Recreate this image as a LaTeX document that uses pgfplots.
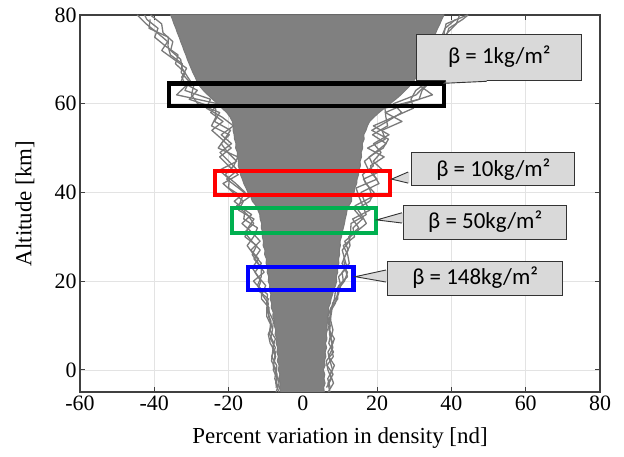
\documentclass[border=0pt]{standalone}
\usepackage{fontspec}
\setmainfont{Liberation Serif}
\newfontfamily\calibri{Carlito}
\usepackage{pgfplots}
\usepackage{pgfplotstable}
\pgfplotsset{compat=1.18}
\definecolor{dgray}{HTML}{808080}
\definecolor{lgray}{HTML}{7A7A7A}
\definecolor{boxgray}{HTML}{D9D9D9}
\definecolor{mgreen}{HTML}{00B050}

% dense core of the dispersion bundle: left edge bottom->top, right edge top->bottom
\pgfplotstableread{
x y
-6.0 -5
-6.3 -4
-6.1 -3
-6.5 -2
-6.2 -1
-6.6 0
-6.4 1
-6.9 2
-6.6 3
-7.0 4
-6.8 5
-7.2 6
-7.0 7
-7.5 8
-7.3 9
-7.7 10
-7.6 11
-8.1 12
-8.0 13
-8.5 14
-8.4 15
-8.8 16
-8.6 17
-9.1 18
-8.9 19
-9.3 20
-9.2 21
-9.6 22
-9.5 23
-9.9 24
-9.8 25
-10.3 26
-10.2 27
-10.7 28
-10.6 29
-10.9 30
-10.8 31
-11.2 32
-11.1 33
-11.5 34
-11.6 35
-12.1 36
-12.6 37
-13.6 38
-14.0 39
-14.8 40
-15.3 41
-15.9 42
-16.3 43
-16.8 44
-17.0 45
-17.4 46
-17.3 47
-17.7 48
-17.6 49
-18.1 50
-18.0 51
-18.4 52
-18.5 53
-18.8 54
-18.7 55
-19.0 56
-19.6 57
-20.5 58
-21.8 59
-23.0 60
-24.3 61
-25.6 62
-26.8 63
-27.8 64
-28.5 65
-29.0 66
-29.6 67
-30.1 68
-30.6 69
-31.1 70
-31.5 71
-32.0 72
-32.4 73
-32.9 74
-33.3 75
-33.8 76
-34.2 77
-34.7 78
-35.1 79
-35.6 80
38.0 80
37.4 79
36.9 78
36.3 77
35.8 76
35.2 75
34.8 74
34.2 73
33.7 72
33.2 71
32.6 70
32.1 69
31.5 68
31.0 67
30.5 66
29.8 65
28.8 64
27.6 63
26.4 62
25.0 61
23.5 60
22.0 59
20.5 58
19.2 57
18.0 56
17.4 55
17.0 54
16.4 53
16.5 52
16.0 51
16.1 50
15.7 49
15.8 48
15.4 47
15.5 46
15.1 45
15.0 44
14.6 43
14.5 42
14.0 41
13.8 40
13.1 39
13.1 38
12.4 37
11.9 36
11.7 35
11.4 34
11.2 33
10.9 32
10.6 31
10.4 30
10.0 29
10.1 28
9.8 27
9.9 26
9.6 25
9.7 24
9.3 23
9.4 22
9.0 21
9.1 20
8.8 19
8.3 18
8.0 17
7.6 16
7.4 15
6.9 14
7.0 13
6.6 12
6.8 11
6.4 10
6.6 9
6.3 8
6.5 7
6.1 6
6.4 5
6.0 4
6.2 3
5.8 2
6.0 1
5.5 0
5.9 -1
5.7 -2
6.0 -3
5.6 -4
5.8 -5
}\core

\pgfplotstableread{
x y
-7.2 -4
-6.95 -2
-7.95 0
-7.75 2
-7.38 4
-8.8 6
-9.3 8
-8.38 10
-9.22 12
-9.1 14
-11.14 16
-11.14 18
-13.3 20
-10.42 22
-12.0 24
-13.66 26
-12.42 28
-15.6 30
-14.77 32
-13.15 34
-17.32 36
-16.0 38
-18.8 40
-21.5 42
-17.4 44
-20.0 46
-22.4 48
-19.3 50
-21.8 52
-24.5 54
-21.5 56
-24.8 58
-22.9 60
-34.0 62
-31.5 64
-32.6 66
-31.3 68
-34.7 70
-38.0 72
-36.4 74
-39.2 76
-42.2 78
-44.6 80
}\leftA

\pgfplotstableread{
x y
-6.45 -5
-7.3 -3
-6.95 -1
-8.0 1
-7.32 3
-8.2 5
-7.38 7
-8.88 9
-8.6 11
-9.5 13
-9.32 15
-11.0 17
-10.0 19
-12.0 21
-13.65 23
-11.9 25
-14.0 27
-11.5 29
-13.7 31
-16.4 33
-13.8 35
-17.2 37
-16.3 39
-20.0 41
-19.8 43
-22.5 45
-17.8 47
-20.2 49
-22.0 51
-19.8 53
-24.6 55
-23.4 57
-23.5 59
-30.6 61
-28.4 63
-32.8 65
-31.7 67
-34.3 69
-33.6 71
-37.0 73
-39.9 75
-39.0 77
-42.0 79
-42.6 80
}\leftB

\pgfplotstableread{
x y
-6.6 -4
-7.55 -2
-7.2 0
-8.43 2
-8.14 4
-7.8 6
-8.94 8
-8.55 10
-9.7 12
-9.7 14
-9.32 16
-12.16 18
-11.3 20
-12.88 22
-11.16 24
-13.24 26
-15.0 28
-13.25 30
-12.22 32
-15.9 34
-15.58 36
-18.48 38
-15.55 40
-18.05 42
-20.9 44
-18.6 46
-17.5 48
-22.8 50
-21.1 52
-19.46 54
-23.78 56
-22.4 58
-28.3 60
-30.0 62
-29.4 64
-31.0 66
-32.5 68
-32.9 70
-35.6 72
-35.0 74
-37.65 76
-38.02 78
-41.0 80
}\leftC

\pgfplotstableread{
x y
-7.2 -5
-6.4 -3
-7.1 -1
-7.04 1
-8.4 3
-7.4 5
-8.71 7
-8.18 9
-7.93 11
-9.05 13
-9.78 15
-9.5 17
-12.23 19
-11.2 21
-11.16 23
-13.16 25
-11.48 27
-13.75 29
-15.7 31
-13.22 33
-14.96 35
-17.8 37
-14.36 39
-17.35 41
-20.5 43
-17.6 45
-19.9 47
-22.3 49
-19.2 51
-21.97 53
-18.68 55
-21.8 57
-26.0 59
-24.85 61
-31.75 63
-30.6 65
-32.75 67
-32.45 69
-35.66 71
-36.3 73
-36.22 75
-41.4 77
-41.12 79
}\leftD

\pgfplotstableread{
x y
7.35 -4
6.7 -2
8.0 0
7.3 2
6.75 4
8.08 6
7.15 8
7.36 10
6.74 12
7.56 14
9.4 16
9.3 18
11.2 20
12.01 22
10.54 24
11.52 26
12.7 28
12.35 30
15.06 32
13.38 34
18.02 36
16.6 38
15.64 40
20.5 42
19.05 44
18.2 46
21.89 48
17.42 50
22.18 52
21.32 54
26.7 56
22.2 58
27.7 60
34.9 62
31.6 64
33.7 66
33.6 68
33.65 70
37.3 72
36.8 74
38.95 76
41.3 78
42.2 80
}\rightA

\pgfplotstableread{
x y
6.8 -5
8.25 -3
7.4 -1
8.5 1
6.95 3
8.08 5
7.5 7
8.1 9
7.52 11
7.32 13
8.75 15
9.32 17
9.64 19
12.0 21
11.33 23
10.98 25
12.19 27
11.28 29
14.2 31
17.1 33
15.72 35
14.07 37
18.65 39
17.9 41
16.32 43
21.5 45
18.94 47
21.06 49
19.05 51
23.2 53
18.98 55
24.45 57
29.8 59
29.1 61
30.4 63
33.8 65
32.85 67
35.25 69
35.8 71
35.4 73
38.56 75
39.3 77
43.0 79
44.5 80
}\rightB

\pgfplotstableread{
x y
6.35 -4
7.7 -2
6.75 0
6.3 2
8.25 4
6.98 6
7.49 8
6.76 10
7.3 12
7.78 14
8.5 16
8.8 18
10.9 20
10.56 22
12.5 24
12.06 26
10.88 28
13.91 30
13.5 32
16.02 34
13.94 36
18.0 38
19.19 40
16.9 42
16.05 44
18.98 46
17.84 48
21.62 50
23.04 52
18.56 54
22.7 56
26.6 58
24.4 60
30.5 62
32.8 64
32.1 66
34.65 68
34.7 70
35.3 72
38.0 74
38.05 76
38.55 78
44.3 80
}\rightC

\pgfplotstableread{
x y
7.3 -5
6.75 -3
8.15 -1
6.5 1
8.2 3
7.6 5
8.5 7
7.05 9
7.34 11
7.72 13
8.0 15
9.54 17
10.2 19
9.6 21
11.91 23
11.25 25
10.6 27
12.56 29
12.85 31
12.97 33
17.06 35
16.14 37
15.12 39
14.33 41
19.97 43
17.7 45
16.57 47
19.42 49
22.45 51
18.76 53
22.82 55
22.35 57
22.1 59
31.3 61
32.1 63
34.3 65
32.48 67
34.55 69
34.31 71
37.4 73
37.3 75
38.3 77
41.12 79
}\rightD

\begin{document}
\begin{tikzpicture}
\begin{axis}[
  at={(0,0)}, anchor=south west,
  scale only axis,
  width=520bp, height=377bp,
  xmin=-60, xmax=80, ymin=-5, ymax=80,
  xtick={-60,-40,...,80}, ytick={0,20,...,80},
  grid=major,
  major grid style={gray!22, line width=0.6bp},
  tick align=inside,
  major tick length=5bp,
  axis line style={black!75, line width=1.2bp},
  tick style={black!75, line width=1bp},
  /pgf/number format/assume math mode=true,
  tick label style={font=\fontsize{22}{26}\selectfont},
  label style={font=\fontsize{23}{27}\selectfont},
  xlabel={Percent variation in density [nd]},
  ylabel={Altitude [km]},
  xlabel style={at={(axis description cs:0.5,-0.122)}, anchor=center},
  ylabel style={at={(axis description cs:-0.106,0.5)}, anchor=center},
  clip mode=individual,
  every axis plot/.append style={line join=round},
]
\addplot[fill=dgray, draw=lgray, line width=1bp] table[x=x,y=y] {\core};
\addplot[lgray, line width=1.3bp] table[x=x,y=y] {\leftA};
\addplot[lgray, line width=1.3bp] table[x=x,y=y] {\leftB};
\addplot[lgray, line width=1.3bp] table[x=x,y=y] {\leftC};
\addplot[lgray, line width=1.3bp] table[x=x,y=y] {\leftD};
\addplot[lgray, line width=1.3bp] table[x=x,y=y] {\rightA};
\addplot[lgray, line width=1.3bp] table[x=x,y=y] {\rightB};
\addplot[lgray, line width=1.3bp] table[x=x,y=y] {\rightC};
\addplot[lgray, line width=1.3bp] table[x=x,y=y] {\rightD};

\draw[black, line width=4.5bp] (axis cs:-36,59.5) rectangle (axis cs:38,64.5);
\draw[red, line width=4.5bp] (axis cs:-23.6,39.4) rectangle (axis cs:23.4,44.8);
\draw[mgreen, line width=4.5bp] (axis cs:-19.1,30.9) rectangle (axis cs:19.7,36.5);
\draw[blue, line width=4.5bp] (axis cs:-14.8,18.0) rectangle (axis cs:13.7,23.2);

% callout boxes
\node[draw=black!80, fill=boxgray, line width=0.9bp,
  minimum width=165bp, minimum height=46bp, inner sep=0pt,
  font=\calibri\fontsize{23}{27}\selectfont]
  at (axis cs:52.9,70.5) {β = 1kg/m²};
\node[draw=black!80, fill=boxgray, line width=0.9bp,
  minimum width=163bp, minimum height=33bp, inner sep=0pt,
  font=\calibri\fontsize{23}{27}\selectfont]
  at (axis cs:51.3,45.2) {β = 10kg/m²};
\node[draw=black!80, fill=boxgray, line width=0.9bp,
  minimum width=163bp, minimum height=34bp, inner sep=0pt,
  font=\calibri\fontsize{23}{27}\selectfont]
  at (axis cs:49.1,33.3) {β = 50kg/m²};
\node[draw=black!80, fill=boxgray, line width=0.9bp,
  minimum width=175bp, minimum height=34bp, inner sep=0pt,
  font=\calibri\fontsize{23}{27}\selectfont]
  at (axis cs:46.4,20.7) {β = 148kg/m²};

% callout pointers
\fill[boxgray] (axis cs:38.5,65.6) -- (axis cs:38.5,65.0) -- (axis cs:38.0,64.6) -- (axis cs:49.5,65.0) -- (axis cs:49.5,65.6) -- cycle;
\draw[black!80, line width=0.9bp] (axis cs:38.5,65.05) -- (axis cs:38.0,64.6) -- (axis cs:49.5,65.05);

\fill[boxgray] (axis cs:28.7,44.6) -- (axis cs:28.2,44.6) -- (axis cs:23.9,43.0) -- (axis cs:28.2,42.1) -- (axis cs:28.7,42.1) -- cycle;
\draw[black!80, line width=0.9bp] (axis cs:28.35,44.6) -- (axis cs:23.9,43.0) -- (axis cs:28.35,42.1);

\fill[boxgray] (axis cs:27.0,35.4) -- (axis cs:26.5,35.4) -- (axis cs:19.9,33.8) -- (axis cs:26.5,33.1) -- (axis cs:27.0,33.1) -- cycle;
\draw[black!80, line width=0.9bp] (axis cs:26.65,35.4) -- (axis cs:19.9,33.8) -- (axis cs:26.65,33.1);

\fill[boxgray] (axis cs:22.7,22.5) -- (axis cs:22.2,22.5) -- (axis cs:14.1,21.0) -- (axis cs:22.2,19.8) -- (axis cs:22.7,19.8) -- cycle;
\draw[black!80, line width=0.9bp] (axis cs:22.35,22.5) -- (axis cs:14.1,21.0) -- (axis cs:22.35,19.8);
\end{axis}
\pgfresetboundingbox
\path[use as bounding box] (-80bp,-65bp) rectangle (544bp,392bp);
\end{tikzpicture}
\end{document}
